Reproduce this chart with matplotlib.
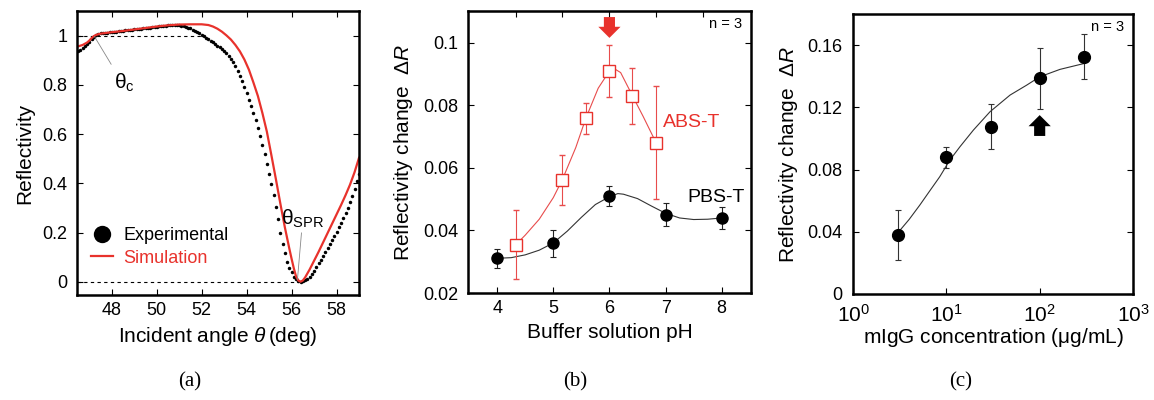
import numpy as np
import matplotlib
matplotlib.use("Agg")
import matplotlib.pyplot as plt
from matplotlib.lines import Line2D

plt.rcParams["font.family"] = ["Liberation Sans", "DejaVu Sans"]
plt.rcParams["mathtext.fontset"] = "custom"
plt.rcParams["mathtext.rm"] = "Liberation Sans"
plt.rcParams["mathtext.it"] = "Liberation Sans:italic"
plt.rcParams["mathtext.bf"] = "Liberation Sans:bold"

RED = "#e8322c"
LRED = "#e84c4c"

# (a) SPR curve: measured (every 0.1 deg) and simulated
exp_angle = np.round(np.arange(46.5, 59.05, 0.1), 2)
exp_refl = [
    0.936, 0.940, 0.948, 0.958, 0.966, 0.975, 0.985, 0.995, 1.003, 1.007,
    1.009, 1.010, 1.011, 1.012, 1.013, 1.014, 1.015, 1.016, 1.017, 1.018,
    1.019, 1.021, 1.022, 1.023, 1.024, 1.025, 1.026, 1.027, 1.028, 1.030,
    1.031, 1.032, 1.033, 1.034, 1.035, 1.037, 1.038, 1.039, 1.040, 1.041,
    1.042, 1.043, 1.043, 1.043, 1.043, 1.042, 1.041, 1.039, 1.036, 1.033,
    1.029, 1.024, 1.019, 1.014, 1.009, 1.003, 0.998, 0.992, 0.986, 0.980,
    0.973, 0.966, 0.959, 0.952, 0.945, 0.937, 0.928, 0.918, 0.906, 0.893,
    0.876, 0.858, 0.837, 0.815, 0.791, 0.766, 0.740, 0.713, 0.685, 0.656,
    0.625, 0.593, 0.558, 0.520, 0.479, 0.439, 0.397, 0.351, 0.303, 0.255,
    0.198, 0.155, 0.118, 0.083, 0.058, 0.040, 0.022, 0.010, 0.004, 0.001,
    0.002, 0.006, 0.013, 0.022, 0.033, 0.046, 0.060, 0.075, 0.090, 0.105,
    0.121, 0.137, 0.153, 0.170, 0.187, 0.204, 0.222, 0.241, 0.260, 0.280,
    0.300, 0.325, 0.350, 0.378, 0.408, 0.440,
]
sim_angle = [46.45, 46.7, 46.9, 47.0, 47.1, 47.2, 47.3, 47.5, 48.0, 48.5, 49.0,
             49.5, 50.0, 50.5, 51.0, 51.5, 52.0, 52.3, 52.5, 52.7, 52.9, 53.1,
             53.3, 53.5, 53.7, 53.9, 54.1, 54.3, 54.5, 54.7, 54.9, 55.1, 55.3,
             55.5, 55.7, 55.9, 56.0, 56.1, 56.2, 56.3, 56.4, 56.5, 56.6, 56.7,
             56.8, 56.9, 57.0, 57.2, 57.4, 57.6, 57.8, 58.0, 58.2, 58.4, 58.6,
             58.8, 59.0]
sim_refl = [0.955, 0.962, 0.972, 0.980, 0.990, 0.998, 1.003, 1.008, 1.014, 1.019,
            1.025, 1.031, 1.037, 1.042, 1.045, 1.046, 1.046, 1.043, 1.037, 1.028,
            1.016, 1.001, 0.984, 0.962, 0.936, 0.903, 0.862, 0.810, 0.755, 0.686,
            0.610, 0.515, 0.418, 0.318, 0.222, 0.135, 0.094, 0.055, 0.022, 0.006,
            0.001, 0.006, 0.018, 0.034, 0.050, 0.068, 0.086, 0.122, 0.160, 0.198,
            0.236, 0.274, 0.312, 0.352, 0.395, 0.445, 0.504]

# (b) pH dependence
pbs_ph = [4, 5, 6, 7, 8]
pbs_dr = [0.0311, 0.0359, 0.0510, 0.0450, 0.0440]
pbs_err = [0.0030, 0.0043, 0.0031, 0.0037, 0.0035]
pbs_fit_ph = [4.0, 4.25, 4.5, 4.75, 5.0, 5.25, 5.5, 5.75, 6.0, 6.15, 6.25, 6.5,
              6.75, 7.0, 7.25, 7.5, 7.75, 8.0]
pbs_fit_dr = [0.0311, 0.0313, 0.0322, 0.0337, 0.0360, 0.0398, 0.0442, 0.0483,
              0.0508, 0.0518, 0.0516, 0.0502, 0.0478, 0.0455, 0.0440, 0.0435,
              0.0436, 0.0440]
abs_ph = [4.33, 5.16, 5.58, 6.0, 6.41, 6.83]
abs_dr = [0.0354, 0.0562, 0.0759, 0.0910, 0.0831, 0.0681]
abs_err = [0.0110, 0.0081, 0.0050, 0.0082, 0.0090, 0.0180]
abs_fit_ph = [4.33, 4.5, 4.75, 5.0, 5.16, 5.4, 5.58, 5.8, 6.0, 6.1, 6.2, 6.41,
              6.6, 6.83]
abs_fit_dr = [0.0354, 0.0385, 0.0436, 0.0505, 0.0562, 0.0665, 0.0759, 0.0855,
              0.0910, 0.0916, 0.0905, 0.0831, 0.0765, 0.0681]
top_ticks_b = [4.33, 5.16, 6.0, 6.83, 7.66]

# (c) concentration dependence
conc = [3, 10, 30, 100, 300]
conc_dr = [0.0379, 0.0878, 0.1075, 0.1386, 0.1525]
conc_err = [0.0160, 0.0070, 0.0145, 0.0195, 0.0145]
fit_conc = [2.9, 3.2, 4.0, 5.2, 6.5, 8.5, 10.9, 14.0, 19.5, 29.4, 48.2, 72.7,
            100, 165, 300]
fit_dr = [0.0395, 0.0411, 0.0480, 0.0572, 0.0655, 0.0754, 0.0861, 0.0947,
          0.1054, 0.1172, 0.1279, 0.1343, 0.1396, 0.1444, 0.1482]

fig = plt.figure(figsize=(11.54, 4.0), dpi=100)
ax1 = fig.add_axes([0.0667, 0.2625, 0.2444, 0.71])
ax2 = fig.add_axes([0.4055, 0.2675, 0.2452, 0.705])
ax3 = fig.add_axes([0.7392, 0.265, 0.2426, 0.70])


def style(ax, top=True):
    for s in ax.spines.values():
        s.set_linewidth(1.8)
    ax.tick_params(direction="in", length=4, width=0.8, labelsize=13,
                   left=True, right=True, top=top, bottom=True, pad=7)
    ax.tick_params(axis="x", pad=5)


# ---- (a)
ax1.plot([46.45, 52.0], [1, 1], "k--", lw=0.8, dashes=(3, 3))
ax1.plot([46.45, 56.4], [0, 0], "k--", lw=0.8, dashes=(3, 3))
ax1.plot(exp_angle, exp_refl, "o", color="k", ms=2.5, mew=0)
ax1.plot(sim_angle, sim_refl, "-", color=RED, lw=1.6)
ax1.set_xlim(46.45, 59.0)
ax1.set_ylim(-0.053, 1.10)
ax1.set_xticks([48, 50, 52, 54, 56, 58])
ax1.set_yticks([0, 0.2, 0.4, 0.6, 0.8, 1])
ax1.set_yticklabels(["0", "0.2", "0.4", "0.6", "0.8", "1"])
style(ax1)
ax1.set_xlabel(r"Incident angle $\theta\,$(deg)", fontsize=15, labelpad=4)
ax1.set_ylabel("Reflectivity", fontsize=15, labelpad=6)
ax1.plot([47.23, 47.97], [0.996, 0.884], color="#888888", lw=0.6)
ax1.text(48.1, 0.81, r"$\mathrm{\theta_c}$", fontsize=15, va="center")
ax1.plot([56.44, 56.26], [0.199, 0.009], color="#888888", lw=0.6)
ax1.text(55.55, 0.255, r"$\mathrm{\theta_{SPR}}$", fontsize=15, va="center")
handles = [Line2D([], [], ls="none", marker="o", color="k", ms=2.5, mew=0),
           Line2D([], [], color=RED, lw=1.6)]
leg = ax1.legend(handles, ["Experimental", "Simulation"], loc="lower left",
                 bbox_to_anchor=(0.05, 0.10), frameon=False, fontsize=13,
                 markerscale=5, handlelength=1.2, handletextpad=0.6,
                 labelspacing=0.3, borderpad=0, borderaxespad=0)
leg.get_texts()[1].set_color(RED)

# ---- (b)
ax2.plot(abs_fit_ph, abs_fit_dr, "-", color=LRED, lw=0.8)
ax2.plot(pbs_fit_ph, pbs_fit_dr, "-", color="#333333", lw=0.8)
ax2.errorbar(abs_ph, abs_dr, yerr=abs_err, fmt="s", ms=8, mfc="white",
             mec=RED, mew=1.0, ecolor=LRED, elinewidth=0.8, capsize=2,
             capthick=0.8)
ax2.errorbar(pbs_ph, pbs_dr, yerr=pbs_err, fmt="o", ms=8, color="k",
             ecolor="#222222", elinewidth=0.8, capsize=2, capthick=0.8)
ax2.set_xlim(3.48, 8.52)
ax2.set_ylim(0.02, 0.1102)
ax2.set_xticks([4, 5, 6, 7, 8])
ax2.set_yticks([0.02, 0.04, 0.06, 0.08, 0.1])
ax2.set_yticklabels(["0.02", "0.04", "0.06", "0.08", "0.1"])
style(ax2, top=False)
sec = ax2.secondary_xaxis("top")
sec.set_xticks(top_ticks_b)
sec.tick_params(direction="in", length=4, width=0.8, labeltop=False)
ax2.set_xlabel("Buffer solution pH", fontsize=15, labelpad=4)
ax2.set_ylabel(r"Reflectivity change  $\mathit{\Delta R}$", fontsize=15,
               labelpad=6)
ax2.text(6.95, 0.0744, "ABS-T", color=RED, fontsize=14, va="center")
ax2.text(7.38, 0.0507, "PBS-T", color="k", fontsize=14, va="center")
ax2.text(0.97, 0.955, "n = 3", transform=ax2.transAxes, fontsize=10.5,
         ha="right", va="center")
ax2.annotate("", xy=(6.0, 0.1016), xytext=(0, 15), textcoords="offset points",
             arrowprops=dict(arrowstyle="simple,head_length=0.8,head_width=1.6,tail_width=0.8",
                             fc=RED, ec=RED, lw=0, shrinkA=0, shrinkB=0,
                             mutation_scale=10))

# ---- (c)
ax3.plot(fit_conc, fit_dr, "-", color="#333333", lw=0.8)
ax3.errorbar(conc, conc_dr, yerr=conc_err, fmt="o", ms=8.5, color="k",
             ecolor="#333333", elinewidth=0.8, capsize=2, capthick=0.8)
ax3.set_xscale("log")
ax3.set_xlim(1, 1000)
ax3.set_ylim(0, 0.18)
ax3.set_yticks([0, 0.04, 0.08, 0.12, 0.16])
ax3.set_yticklabels(["0", "0.04", "0.08", "0.12", "0.16"])
ax3.xaxis.set_minor_locator(matplotlib.ticker.NullLocator())
style(ax3, top=False)
ax3.tick_params(axis="x", labelsize=15, pad=7)
ax3.tick_params(axis="y", pad=8)
ax3.set_xlabel(r"mIgG concentration ($\mathrm{\mu}$g/mL)", fontsize=15,
               labelpad=0)
ax3.set_ylabel(r"Reflectivity change  $\mathit{\Delta R}$", fontsize=15,
               labelpad=5)
ax3.text(0.97, 0.955, "n = 3", transform=ax3.transAxes, fontsize=10.5,
         ha="right", va="center")
ax3.annotate("", xy=(100, 0.115), xytext=(0, -15), textcoords="offset points",
             arrowprops=dict(arrowstyle="simple,head_length=0.8,head_width=1.6,tail_width=0.8",
                             fc="k", ec="k", lw=0, shrinkA=0, shrinkB=0,
                             mutation_scale=10))

for x, lab in [(0.1646, "(a)"), (0.4983, "(b)"), (0.832, "(c)")]:
    fig.text(x, 0.045, lab, fontsize=15, ha="center", va="center",
             family="Liberation Serif")

fig.savefig("out.png", dpi=100)
